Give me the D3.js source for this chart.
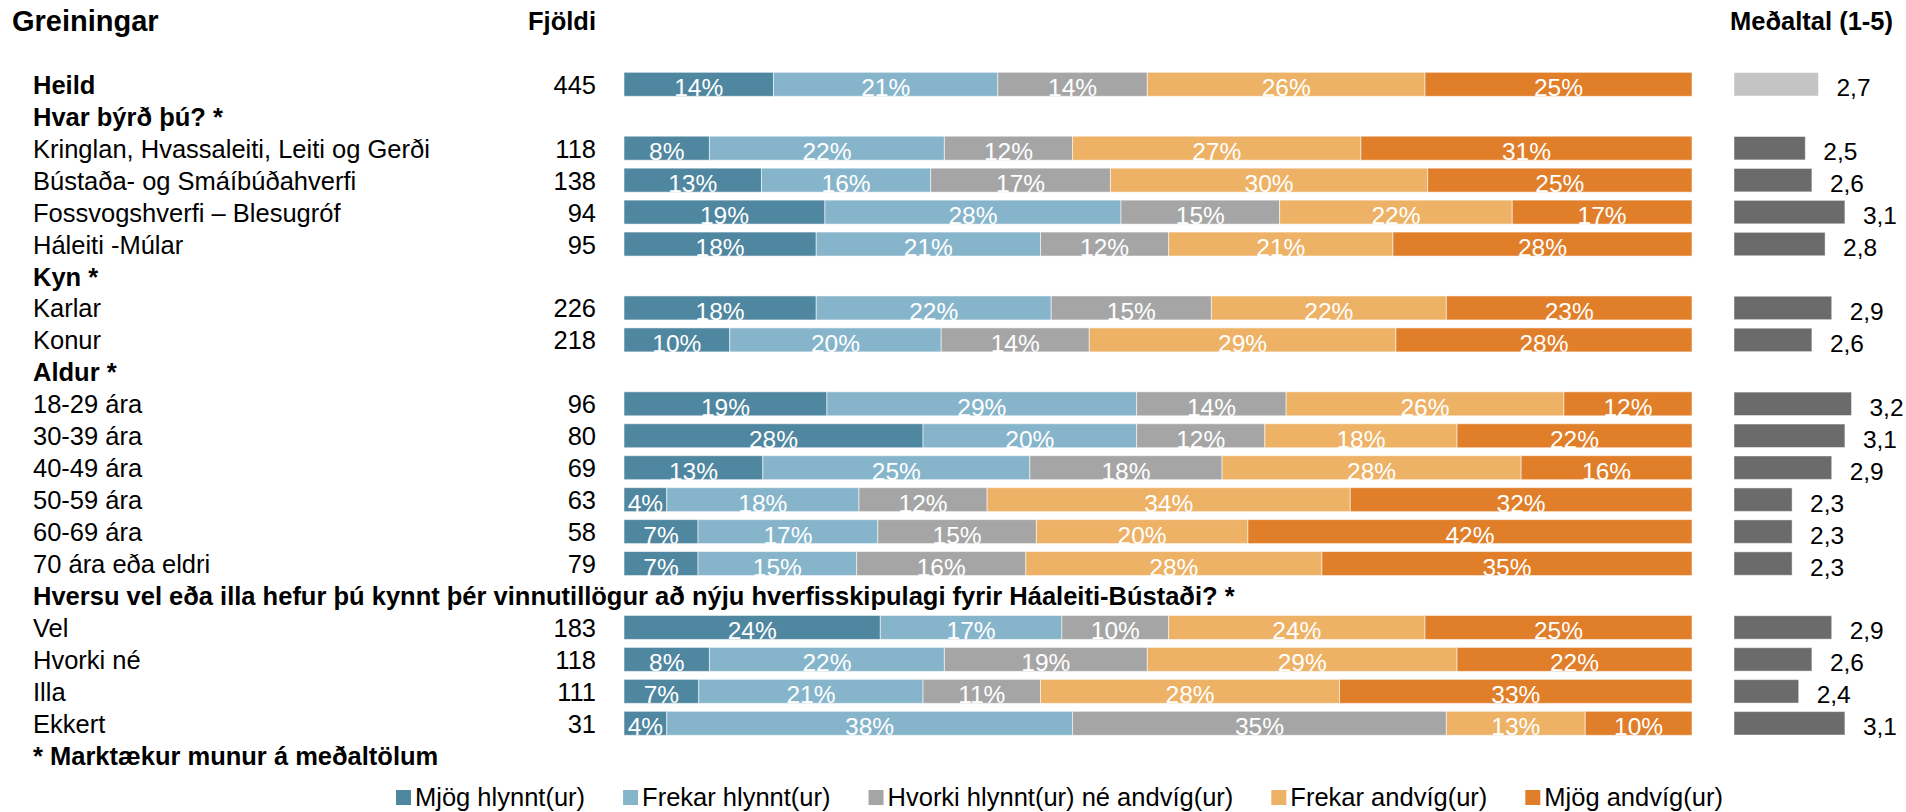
<!DOCTYPE html>
<html>
<head>
<meta charset="utf-8">
<script src="https://cdn.jsdelivr.net/npm/d3@7"></script>
<style>
  html, body { margin: 0; padding: 0; background: #fff; }
  svg text { font-family: "Liberation Sans", Arial, sans-serif; }
</style>
</head>
<body>
<svg id="chart" width="1906" height="812"></svg>
<script>
// Row labels (groups + sub-groups), in display order
const categories = [
  "Heild",
  "Hvar býrð þú? *",
  "Kringlan, Hvassaleiti, Leiti og Gerði",
  "Bústaða- og Smáíbúðahverfi",
  "Fossvogshverfi – Blesugróf",
  "Háleiti -Múlar",
  "Kyn *",
  "Karlar",
  "Konur",
  "Aldur *",
  "18-29 ára",
  "30-39 ára",
  "40-49 ára",
  "50-59 ára",
  "60-69 ára",
  "70 ára eða eldri",
  "Hversu vel eða illa hefur þú kynnt þér vinnutillögur að nýju hverfisskipulagi fyrir Háaleiti-Bústaði? *",
  "Vel",
  "Hvorki né",
  "Illa",
  "Ekkert"
];
const boldRows = ["Heild", "Hvar býrð þú? *", "Kyn *", "Aldur *",
  "Hversu vel eða illa hefur þú kynnt þér vinnutillögur að nýju hverfisskipulagi fyrir Háaleiti-Bústaði? *"];

const counts = [445, null, 118, 138, 94, 95, null, 226, 218, null, 96, 80, 69, 63, 58, 79, null, 183, 118, 111, 31];

// Answer shares (%) per row
const mjogHlynnt   = [14, null,  8, 13, 19, 18, null, 18, 10, null, 19, 28, 13,  4,  7,  7, null, 24,  8,  7,  4];
const frekarHlynnt = [21, null, 22, 16, 28, 21, null, 22, 20, null, 29, 20, 25, 18, 17, 15, null, 17, 22, 21, 38];
const hvorki       = [14, null, 12, 17, 15, 12, null, 15, 14, null, 14, 12, 18, 12, 15, 16, null, 10, 19, 11, 35];
const frekarAndvig = [26, null, 27, 30, 22, 21, null, 22, 29, null, 26, 18, 28, 34, 20, 28, null, 24, 29, 28, 13];
const mjogAndvig   = [25, null, 31, 25, 17, 28, null, 23, 28, null, 12, 22, 16, 32, 42, 35, null, 25, 22, 33, 10];

// Mean score on a 1-5 scale
const means = [2.7, null, 2.5, 2.6, 3.1, 2.8, null, 2.9, 2.6, null, 3.2, 3.1, 2.9, 2.3, 2.3, 2.3, null, 2.9, 2.6, 2.4, 3.1];

const seriesNames = ["Mjög hlynnt(ur)", "Frekar hlynnt(ur)", "Hvorki hlynnt(ur) né andvíg(ur)", "Frekar andvíg(ur)", "Mjög andvíg(ur)"];
const seriesColors = ["#4f86a0", "#86b5cb", "#a5a5a5", "#edb265", "#e07e29"];
const series = [mjogHlynnt, frekarHlynnt, hvorki, frekarAndvig, mjogAndvig];

const footnote = "* Marktækur munur á meðaltölum";

const svg = d3.select("#chart");
const FS = 25.5;
const barH = 24;

const y = d3.scaleLinear().domain([0, categories.length]).range([84.3, 84.3 + 31.95 * categories.length]);
const xStack = d3.scaleLinear().domain([0, 1]).range([624, 1692]);
const xMean = d3.scaleLinear().domain([1.42, 3.5]).range([0, 137.3]);
const meanX0 = 1734;

// Column headings
svg.append("text").attr("x", 12).attr("y", 31).attr("font-size", 29).attr("font-weight", "bold")
  .attr("fill", "#000").text("Greiningar");
svg.append("text").attr("x", 596).attr("y", 29.5).attr("font-size", FS).attr("font-weight", "bold")
  .attr("text-anchor", "end").attr("fill", "#000").text("Fjöldi");
svg.append("text").attr("x", 1893).attr("y", 29.5).attr("font-size", FS).attr("font-weight", "bold")
  .attr("text-anchor", "end").attr("fill", "#000").text("Meðaltal (1-5)");

// Row labels
svg.append("g").selectAll("text").data(categories).join("text")
  .attr("x", 33).attr("y", (d, i) => y(i) + 9.5)
  .attr("font-size", FS)
  .attr("font-weight", d => boldRows.includes(d) ? "bold" : "normal")
  .attr("fill", "#000").text(d => d);

// Counts
svg.append("g").selectAll("text").data(counts.map((c, i) => ({c, i})).filter(d => d.c !== null)).join("text")
  .attr("x", 596).attr("y", d => y(d.i) + 9.5).attr("text-anchor", "end")
  .attr("font-size", FS).attr("fill", "#000").text(d => d.c);

// Stacked 100% bars
const rows = categories.map((c, i) => i).filter(i => mjogHlynnt[i] !== null);
const segs = [];
rows.forEach(i => {
  const vals = series.map(s => s[i]);
  const total = d3.sum(vals);
  let acc = 0;
  vals.forEach((v, k) => {
    segs.push({i, k, v, x0: acc / total, x1: (acc + v) / total});
    acc += v;
  });
});
const gBars = svg.append("g");
gBars.selectAll("rect").data(segs).join("rect")
  .attr("x", d => xStack(d.x0)).attr("width", d => xStack(d.x1) - xStack(d.x0))
  .attr("y", d => y(d.i) - barH / 2).attr("height", barH)
  .attr("fill", d => seriesColors[d.k])
  .attr("stroke", "#ffffff").attr("stroke-opacity", 0.55).attr("stroke-width", 1);
gBars.selectAll("text").data(segs).join("text")
  .attr("x", d => (xStack(d.x0) + xStack(d.x1)) / 2).attr("y", d => y(d.i) + 12)
  .attr("text-anchor", "middle").attr("font-size", 24.5).attr("fill", "#fff")
  .text(d => d.v + "%");

// Mean bars
const meanRows = rows.map(i => ({i, m: means[i]}));
const gMean = svg.append("g");
gMean.selectAll("rect").data(meanRows).join("rect")
  .attr("x", meanX0).attr("width", d => xMean(d.m))
  .attr("y", d => y(d.i) - 11.7).attr("height", 23.4)
  .attr("fill", d => d.i === 0 ? "#c4c4c4" : "#6b6b6b")
  .attr("stroke", "#ffffff").attr("stroke-opacity", 0.45).attr("stroke-width", 1);
gMean.selectAll("text").data(meanRows).join("text")
  .attr("x", d => meanX0 + xMean(d.m) + 18).attr("y", d => y(d.i) + 12)
  .attr("font-size", 24.5).attr("fill", "#000")
  .text(d => d3.format(".1f")(d.m).replace(".", ","));

// Footnote
svg.append("text").attr("x", 33).attr("y", y(categories.length) + 9.5)
  .attr("font-size", FS).attr("font-weight", "bold").attr("fill", "#000").text(footnote);

// Legend
const gLeg = svg.append("g");
let lx = 396;
seriesNames.forEach((name, k) => {
  gLeg.append("rect").attr("x", lx).attr("y", 790).attr("width", 15).attr("height", 15)
    .attr("fill", seriesColors[k]);
  const t = gLeg.append("text").attr("x", lx + 19).attr("y", 806)
    .attr("font-size", FS).attr("fill", "#000").text(name);
  lx += 19 + t.node().getComputedTextLength() + 38;
});
</script>
</body>
</html>
